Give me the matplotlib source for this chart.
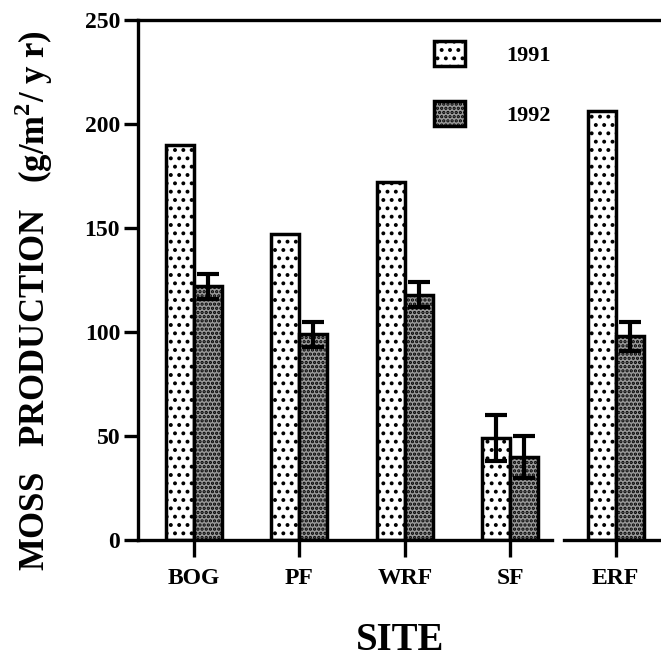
import matplotlib
matplotlib.use("Agg")
import matplotlib.pyplot as plt
import numpy as np

plt.rcParams["font.family"] = ["Liberation Serif", "DejaVu Serif"]
plt.rcParams["font.weight"] = "bold"
plt.rcParams["mathtext.fontset"] = "custom"
plt.rcParams["mathtext.rm"] = "Liberation Serif:bold"
plt.rcParams["mathtext.bf"] = "Liberation Serif:bold"
plt.rcParams["hatch.linewidth"] = 1.6

# data
sites = ["BOG", "PF", "WRF", "SF", "ERF"]
prod_1991 = [190, 147, 172, 49, 206]
prod_1992 = [122, 99, 118, 40, 98]
err_1991 = [0, 0, 0, 11, 0]
err_1992 = [6, 6, 6, 10, 7]
years = ["1991", "1992"]

x = np.arange(len(sites))
w = 0.265

fig = plt.figure(figsize=(6.61, 6.58), dpi=100)
ax = fig.add_axes([0.209, 0.179, 0.791, 0.791])

ax.bar(x - w / 2, prod_1991, width=w, facecolor="white", edgecolor="black",
       linewidth=2.5, hatch="..", label=years[0])
ax.bar(x + w / 2, prod_1992, width=w, facecolor="#9a9a9a", edgecolor="black",
       linewidth=2.5, hatch="....", label=years[1])

# error bars only where there is one
e1 = [i for i, e in enumerate(err_1991) if e > 0]
ax.errorbar(x[e1] - w / 2, np.array(prod_1991)[e1], yerr=np.array(err_1991)[e1],
            fmt="none", ecolor="black", elinewidth=3, capsize=8, capthick=3)
ax.errorbar(x + w / 2, prod_1992, yerr=err_1992,
            fmt="none", ecolor="black", elinewidth=3, capsize=8, capthick=3)

ax.set_ylim(0, 250)
ax.set_xlim(-0.53, 4.43)
ax.set_yticks([0, 50, 100, 150, 200, 250])
ax.set_xticks(x)
ax.set_xticklabels(sites)

for side in ["left", "top", "bottom"]:
    ax.spines[side].set_linewidth(2.4)
ax.spines["right"].set_visible(False)
# the x axis is broken between SF and ERF
ax.spines["bottom"].set_bounds(-0.53, 3.40)
ax.axhline(0, xmin=(3.51 + 0.53) / 4.96, xmax=1, color="black", lw=2.4, clip_on=False)

ax.tick_params(axis="y", direction="out", length=10, width=2.4, labelsize=17, pad=3)
ax.tick_params(axis="x", direction="out", length=12, width=2.4, labelsize=17, pad=8)

ax.set_ylabel("MOSS   PRODUCTION   (g/m$^2$/ y r)", fontsize=25, fontweight="bold",
              va="center")
ax.yaxis.set_label_coords(-0.20, 0.461)
ax.set_xlabel("SITE", fontsize=28, fontweight="bold", va="center")
ax.xaxis.set_label_coords(0.50, -0.192)

ax.legend(loc="upper left", bbox_to_anchor=(0.528, 0.997), frameon=False,
          handlelength=1.4, handleheight=1.3, labelspacing=1.6, handletextpad=1.85,
          fontsize=16)

fig.savefig("out.png", dpi=100)
